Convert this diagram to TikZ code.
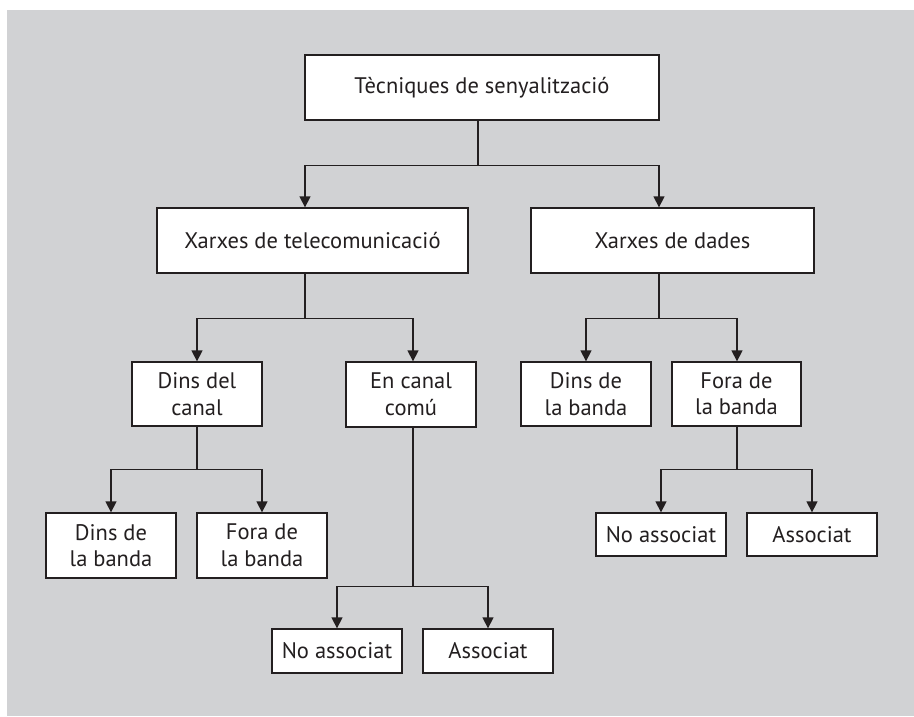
\documentclass[tikz,border=0pt]{standalone}
\usepackage{fontspec}
\setmainfont{PT Sans}
\usetikzlibrary{arrows.meta}
\definecolor{bggray}{RGB}{209,210,212}
\definecolor{ink}{RGB}{35,31,32}
\begin{document}
\begin{tikzpicture}[x=1pt,y=-1pt,
  box/.style={draw=ink, line width=1.3pt, fill=white, inner sep=0pt, align=center, text=ink,
              font=\fontsize{22.5}{26.5}\selectfont},
  conn/.style={draw=ink, line width=1.3pt},
  arr/.style={conn, -{Triangle[width=11pt,length=11pt]}}]
\useasboundingbox (0,0) rectangle (914,716);
\fill[bggray] (7,10) rectangle (914,716);

\node[box, minimum width=354pt, minimum height=65pt] (top)   at (482,87.5)  {Tècniques de senyalització};
\node[box, minimum width=311pt, minimum height=65pt] (tele)  at (312.5,240.5) {Xarxes de telecomunicació};
\node[box, minimum width=283pt, minimum height=65pt] (dades) at (672.5,240.5) {Xarxes de dades};

\node[box, minimum width=130pt, minimum height=64pt] (dcanal) at (197,394)   {Dins del\\canal};
\node[box, minimum width=130pt, minimum height=65pt] (comu)   at (411,394.5) {En canal\\comú};
\node[box, minimum width=130pt, minimum height=64pt] (rdins)  at (586,394)   {Dins de\\la banda};
\node[box, minimum width=129pt, minimum height=64pt] (rfora)  at (736.5,394) {Fora de\\la banda};

\node[box, minimum width=130pt, minimum height=65pt] (ldins) at (111,545.5) {Dins de\\la banda};
\node[box, minimum width=130pt, minimum height=65pt] (lfora) at (262,545.5) {Fora de\\la banda};

\node[box, minimum width=130pt, minimum height=44pt] (mno) at (337,651) {No associat};
\node[box, minimum width=130pt, minimum height=44pt] (mas) at (488,651) {Associat};

\node[box, minimum width=130pt, minimum height=43pt] (rno) at (661,534.5) {No associat};
\node[box, minimum width=130pt, minimum height=43pt] (ras) at (812,534.5) {Associat};

% top level
\draw[conn] ([xshift=-4pt]top.south) -- ++(0,45) coordinate (j1);
\draw[arr] (j1) -| ([xshift=-7.5pt]tele.north);
\draw[arr] (j1) -| ([xshift=-13.5pt]dades.north);

% telecom
\draw[conn] ([xshift=-7.5pt]tele.south) -- ++(0,45) coordinate (j2);
\draw[arr] (j2) -| (dcanal.north);
\draw[arr] (j2) -| ([xshift=2pt]comu.north);

% dades
\draw[conn] ([xshift=-13.5pt]dades.south) -- ++(0,45) coordinate (j3);
\draw[arr] (j3) -| (rdins.north);
\draw[arr] (j3) -| ([xshift=0.5pt]rfora.north);

% dins del canal
\draw[conn] (dcanal.south) -- ++(0,43) coordinate (j4);
\draw[arr] (j4) -| (ldins.north);
\draw[arr] (j4) -| (lfora.north);

% en canal comu
\draw[conn] ([xshift=2pt]comu.south) -- ++(0,159) coordinate (j5);
\draw[arr] (j5) -| (mno.north);
\draw[arr] (j5) -| (mas.north);

% fora de la banda (dades)
\draw[conn] ([xshift=0.5pt]rfora.south) -- ++(0,43) coordinate (j6);
\draw[arr] (j6) -| (rno.north);
\draw[arr] (j6) -| (ras.north);
\end{tikzpicture}
\end{document}
